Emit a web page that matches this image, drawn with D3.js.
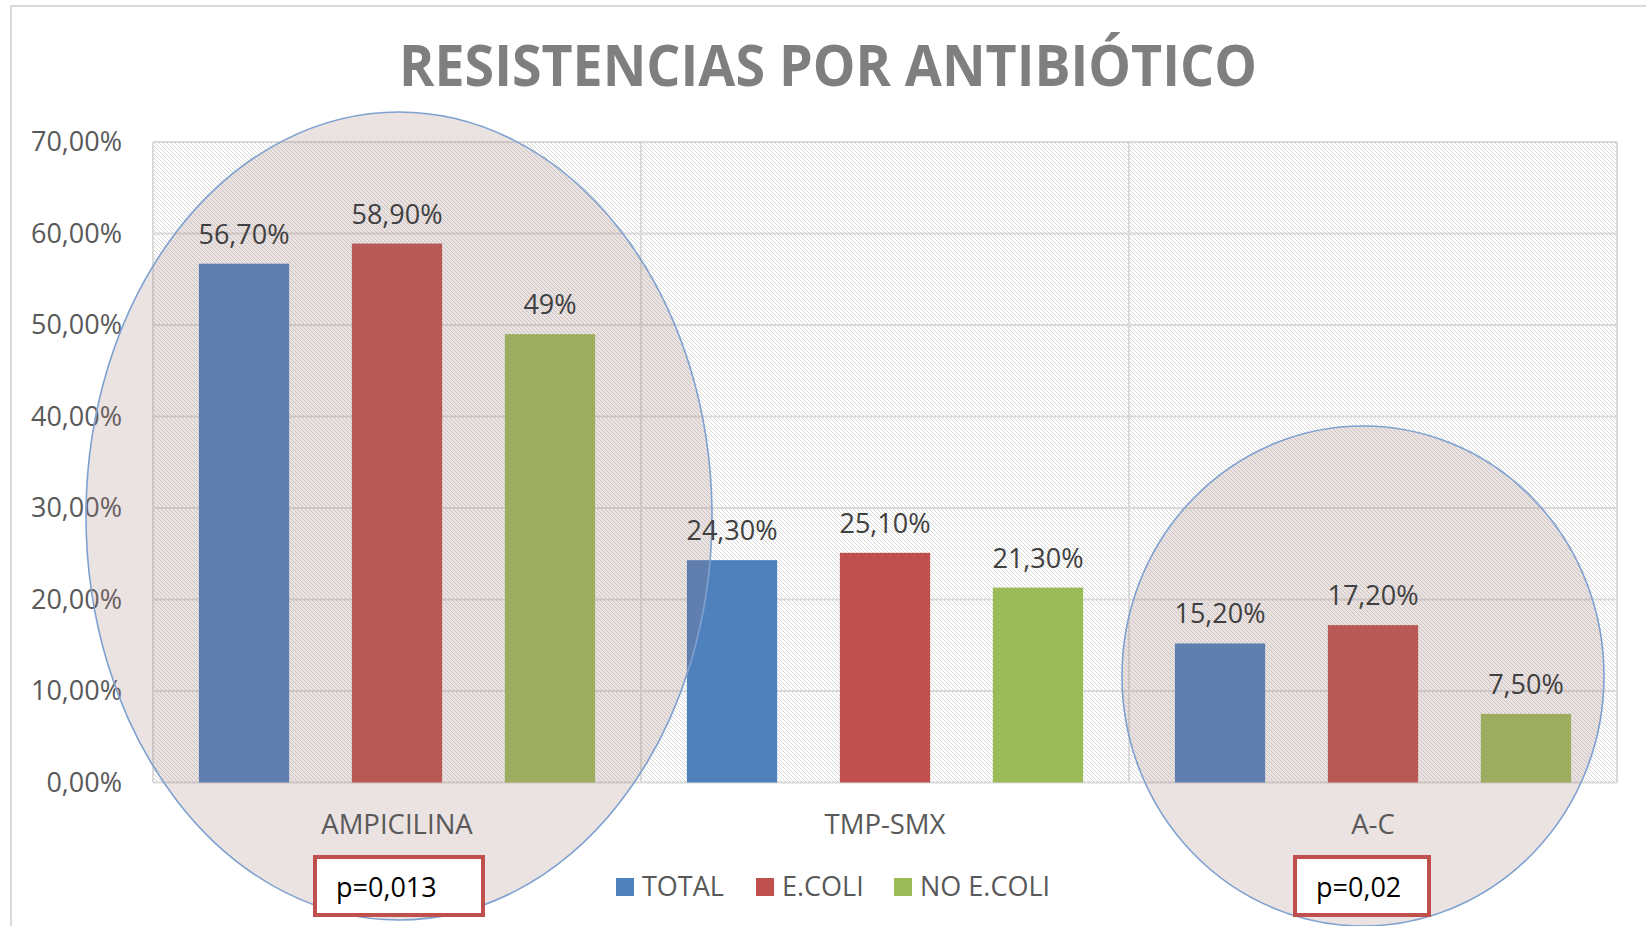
<!DOCTYPE html>
<html lang="es">
<head>
<meta charset="UTF-8">
<title>Resistencias por antibiótico</title>
<script src="https://d3js.org/d3.v7.min.js"></script>
<style>
  body { margin: 0; background: #fff; }
  text { font-family: "Open Sans", "Noto Sans", sans-serif; }
</style>
</head>
<body>
<svg id="chart" width="1646" height="926"></svg>
<script>
// data
const categories = ["AMPICILINA", "TMP-SMX", "A-C"];
const series = ["TOTAL", "E.COLI", "NO E.COLI"];
const totalValues = [56.7, 24.3, 15.2];
const ecoliValues = [58.9, 25.1, 17.2];
const noEcoliValues = [49, 21.3, 7.5];
const totalLabels = ["56,70%", "24,30%", "15,20%"];
const ecoliLabels = ["58,90%", "25,10%", "17,20%"];
const noEcoliLabels = ["49%", "21,30%", "7,50%"];
const yTicks = [0, 10, 20, 30, 40, 50, 60, 70];
const pValues = [{ cat: "AMPICILINA", text: "p=0,013" }, { cat: "A-C", text: "p=0,02" }];

const colors = ["#4f81bd", "#c0504d", "#9bbb59"];

const svg = d3.select("#chart");
const plot = { left: 153, right: 1617, top: 142, bottom: 782.5 };

// chart border (runs off the right/bottom of the picture)
svg.append("rect")
    .attr("x", 11).attr("y", 6)
    .attr("width", 1700).attr("height", 1000)
    .attr("fill", "#fff")
    .attr("stroke", "#d9d9d9").attr("stroke-width", 2);

// pixel hatch for the plot area: 1px diagonal lines going down-right
const defs = svg.append("defs");
const hatch = defs.append("pattern")
    .attr("id", "hatch")
    .attr("patternUnits", "userSpaceOnUse")
    .attr("width", 4).attr("height", 4);
hatch.selectAll("rect")
    .data(d3.range(4))
    .join("rect")
    .attr("x", d => d).attr("y", d => d)
    .attr("width", 1).attr("height", 1)
    .attr("fill", "#d8d8d8")
    .attr("shape-rendering", "crispEdges");

const x = d3.scaleBand()
    .domain(categories)
    .range([plot.left, plot.right]);

const xs = d3.scaleBand()
    .domain(series)
    .range([0, x.bandwidth()])
    .paddingInner(0.41)
    .paddingOuter(0.3);

const y = d3.scaleLinear()
    .domain([0, 70])
    .range([plot.bottom, plot.top]);

// title
svg.append("text")
    .attr("x", 828).attr("y", 86)
    .attr("text-anchor", "middle")
    .attr("font-size", 57)
    .attr("font-weight", "bold")
    .attr("fill", "#7f7f7f")
    .attr("textLength", 858)
    .attr("lengthAdjust", "spacingAndGlyphs")
    .text("RESISTENCIAS POR ANTIBIÓTICO");

// plot background
svg.append("rect")
    .attr("x", plot.left).attr("y", plot.top)
    .attr("width", plot.right - plot.left)
    .attr("height", plot.bottom - plot.top)
    .attr("fill", "url(#hatch)");

// horizontal gridlines
svg.append("g")
    .selectAll("line")
    .data(yTicks)
    .join("line")
    .attr("x1", plot.left).attr("x2", plot.right)
    .attr("y1", d => y(d)).attr("y2", d => y(d))
    .attr("stroke", "#d9d9d9").attr("stroke-width", 2);

// vertical category separators
const seps = [...categories.map(c => x(c)), plot.right];
svg.append("g")
    .selectAll("line")
    .data(seps)
    .join("line")
    .attr("x1", d => d).attr("x2", d => d)
    .attr("y1", plot.top).attr("y2", plot.bottom)
    .attr("stroke", "#d9d9d9").attr("stroke-width", 2);

// y-axis tick labels
const yAxis = svg.append("g")
    .attr("transform", `translate(${plot.left - 31},0)`)
    .call(d3.axisLeft(y).tickValues(yTicks).tickSize(0).tickPadding(0)
        .tickFormat(d => d3.format(".2f")(d).replace(".", ",") + "%"));
yAxis.select(".domain").remove();
yAxis.selectAll("text")
    .attr("font-family", "'Open Sans', sans-serif")
    .attr("font-size", 27)
    .attr("fill", "#595959");

// bars
const valueSets = [totalValues, ecoliValues, noEcoliValues];
const labelSets = [totalLabels, ecoliLabels, noEcoliLabels];
const barData = [];
series.forEach((s, si) => {
    categories.forEach((c, ci) => {
        barData.push({ cat: c, ser: s, si: si, value: valueSets[si][ci], label: labelSets[si][ci] });
    });
});

svg.append("g")
    .selectAll("rect")
    .data(barData)
    .join("rect")
    .attr("x", d => x(d.cat) + xs(d.ser))
    .attr("y", d => y(d.value))
    .attr("width", xs.bandwidth())
    .attr("height", d => y(0) - y(d.value))
    .attr("fill", d => colors[d.si]);

// ellipse highlights
const ellipses = [
    { cx: x("AMPICILINA") + x.bandwidth() / 2 + 2, cy: 516, rx: 313, ry: 404 },
    { cx: x("A-C") + x.bandwidth() / 2 - 10, cy: 676, rx: 241, ry: 250 }
];
svg.append("g")
    .selectAll("ellipse")
    .data(ellipses)
    .join("ellipse")
    .attr("cx", d => d.cx).attr("cy", d => d.cy)
    .attr("rx", d => d.rx).attr("ry", d => d.ry)
    .attr("fill", "rgb(160,125,118)")
    .attr("fill-opacity", 0.21)
    .attr("stroke", "#7ea1d0")
    .attr("stroke-width", 1.6);

// value labels
svg.append("g")
    .selectAll("text")
    .data(barData)
    .join("text")
    .attr("x", d => x(d.cat) + xs(d.ser) + xs.bandwidth() / 2)
    .attr("y", d => y(d.value) - 20)
    .attr("text-anchor", "middle")
    .attr("font-size", 27)
    .attr("fill", "#404040")
    .text(d => d.label);

// category labels
svg.append("g")
    .selectAll("text")
    .data(categories)
    .join("text")
    .attr("x", d => x(d) + x.bandwidth() / 2)
    .attr("y", 834)
    .attr("text-anchor", "middle")
    .attr("font-size", 27.5)
    .attr("fill", "#595959")
    .text(d => d);

// p-value boxes
const pBox = svg.append("g")
    .selectAll("g")
    .data(pValues)
    .join("g")
    .attr("transform", (d, i) => `translate(${x(d.cat) + x.bandwidth() / 2 - (i === 0 ? 82 : 78)},857)`);
pBox.append("rect")
    .attr("width", (d, i) => i === 0 ? 168 : 134)
    .attr("height", 58)
    .attr("fill", "#fff")
    .attr("stroke", "#c0504d")
    .attr("stroke-width", 4);
pBox.append("text")
    .attr("x", 21).attr("y", 40)
    .attr("font-size", 27)
    .attr("fill", "#000")
    .text(d => d.text);

// legend
const legendX = [616, 756, 894];
const legend = svg.append("g")
    .selectAll("g")
    .data(series)
    .join("g")
    .attr("transform", (d, i) => `translate(${legendX[i]},878)`);
legend.append("rect")
    .attr("width", 18).attr("height", 18)
    .attr("fill", (d, i) => colors[i]);
legend.append("text")
    .attr("x", 26).attr("y", 18)
    .attr("font-size", 27)
    .attr("fill", "#595959")
    .text(d => d);
</script>
</body>
</html>
